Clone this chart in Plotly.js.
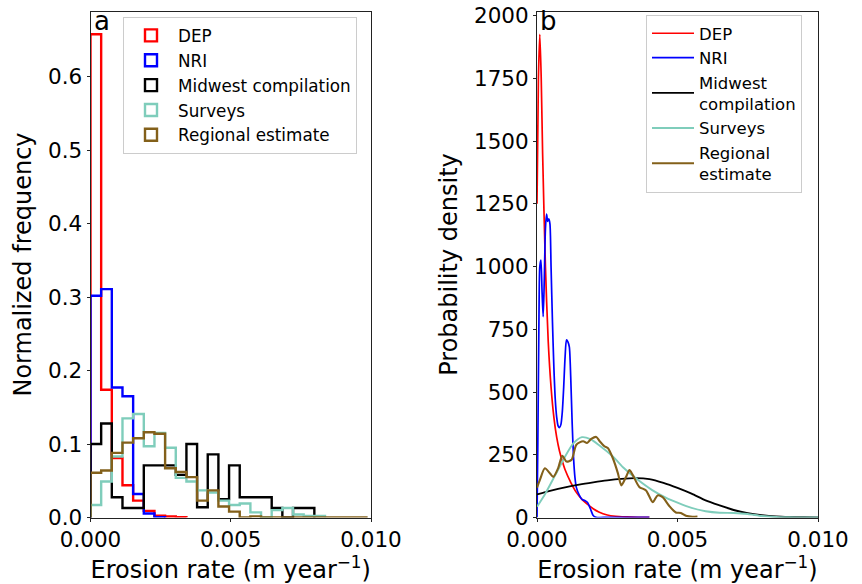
<!DOCTYPE html>
<html>
<head>
<meta charset="utf-8">
<script src="https://cdn.plot.ly/plotly-3.0.1.min.js"></script>
<style>
  html, body { margin: 0; padding: 0; background: #fff; }
  #chart { width: 862px; height: 584px; }
</style>
</head>
<body>
<div id="chart"></div>
<script>
// ---------- Panel a: normalized histogram frequencies (common bin width) ----------
const binWidth = 0.00038; // m/yr
const depFreq = [0.658, 0.174, 0.081, 0.044, 0.023, 0.009, 0.0023, 0.0014, 0.0005];
const nriFreq = [0.302, 0.311, 0.177, 0.165, 0.032, 0.0055, 0.0005];
const midwestFreq = [0.100, 0.128, 0.0275, 0.013, 0.013, 0.071, 0.071, 0.071, 0.058, 0.100,
                     0.014, 0.086, 0.025, 0.071, 0.0275, 0.0275, 0.0275, 0.013, 0.0, 0.013, 0.013];
const surveysFreq = [0.017, 0.049, 0.083, 0.135, 0.141, 0.097, 0.115, 0.095, 0.054, 0.049,
                     0.037, 0.034, 0.023, 0.017, 0.019, 0.007, 0.0, 0.010, 0.013, 0.004, 0.002, 0.002];
const regionalFreq = [0.061, 0.064, 0.088, 0.102, 0.108, 0.116, 0.114, 0.067, 0.062, 0.055,
                      0.023, 0.037, 0.015, 0.008, 0.0, 0.0015, 0, 0, 0, 0, 0, 0, 0, 0, 0, 0];

// ---------- Panel b: probability density curves ----------
const depX = [0, 0.00005, 0.0001, 0.00015, 0.0002, 0.0003, 0.0004, 0.0005, 0.0006, 0.0007, 0.0008,
              0.0009, 0.001, 0.0012, 0.0014, 0.0016, 0.0018, 0.002, 0.0022, 0.0025, 0.0028, 0.0032, 0.0036, 0.004];
const depY = [1250, 1750, 1925, 1750, 1450, 1000, 700, 520, 400, 320, 265,
              225, 190, 140, 100, 72, 52, 35, 22, 10, 5, 2.5, 1, 0.3];

const nriX = [0, 0.00003, 0.00007, 0.0001, 0.00014, 0.00018, 0.00022, 0.00026, 0.0003, 0.00034, 0.00038,
              0.00042, 0.00046, 0.0005, 0.00055, 0.0006, 0.00065, 0.0007, 0.00075, 0.0008, 0.00085, 0.0009,
              0.00095, 0.001, 0.00105, 0.0011, 0.00115, 0.0012, 0.00125, 0.0013, 0.00135, 0.0014, 0.0015,
              0.0016, 0.0017, 0.0018, 0.0019, 0.002, 0.0021, 0.0025, 0.003, 0.004];
const nriY = [0, 300, 800, 1000, 1026, 900, 800, 950, 1150, 1209, 1180,
              1190, 1170, 1000, 780, 600, 470, 400, 365, 358, 370, 420,
              520, 640, 708, 700, 680, 560, 380, 240, 160, 120, 90,
              72, 68, 60, 35, 8, 1, 0.5, 0.3, 0.2];

const midwestX = [0, 0.0005, 0.001, 0.0015, 0.002, 0.0025, 0.003, 0.0035, 0.004, 0.0045, 0.005,
                  0.0055, 0.006, 0.0065, 0.007, 0.0075, 0.008, 0.0085, 0.009, 0.0095, 0.01];
const midwestY = [92, 107, 120, 131, 140, 148, 154, 157, 153, 138, 118,
                  95, 68, 48, 30, 17, 9, 4, 1.8, 0.7, 0.2];

const surveysX = [0, 0.0003, 0.00065, 0.001, 0.0013, 0.0016, 0.0019, 0.0022, 0.0027, 0.0031, 0.0036,
                  0.0041, 0.0046, 0.005, 0.0055, 0.006, 0.0065, 0.007, 0.0075, 0.008, 0.0085, 0.009, 0.0095, 0.01];
const surveysY = [43, 96, 169, 243, 296, 320, 312, 289, 243, 196, 149,
                  109, 78, 59, 38, 25, 19, 18, 14, 6, 2, 0.8, 0.3, 0.1];

const regionalX = [0, 0.0001, 0.00028, 0.00046, 0.00058, 0.00075, 0.0009, 0.00105, 0.00123, 0.0014,
                   0.00164, 0.00178, 0.00193, 0.00211, 0.00223, 0.0024, 0.00252, 0.0027, 0.00288, 0.003,
                   0.00317, 0.00329, 0.00341, 0.00364, 0.00388, 0.00412, 0.00429, 0.00447, 0.0047, 0.00494,
                   0.00512, 0.0053, 0.00553, 0.00571];
const regionalY = [119, 149, 196, 176, 162, 196, 246, 223, 230, 290,
                   304, 297, 313, 321, 304, 284, 277, 236, 176, 128,
                   162, 189, 169, 122, 108, 61, 88, 81, 47, 20,
                   18, 7, 3, 4];

const seriesNames = ['DEP', 'NRI', 'Midwest compilation', 'Surveys', 'Regional estimate'];
const seriesNamesB = ['DEP', 'NRI', 'Midwest<br>compilation', 'Surveys', 'Regional<br>estimate'];
const colors = ['#ff0000', '#0000ff', '#000000', '#7fcdbb', '#83601a'];

const xTicks = [0, 0.005, 0.01];
const yTicksA = [0, 0.1, 0.2, 0.3, 0.4, 0.5, 0.6];
const yTicksB = [0, 250, 500, 750, 1000, 1250, 1500, 1750, 2000];

// ---------- build traces ----------
function stepXY(freq) {
  const xs = [0], ys = [0];
  freq.forEach((v, i) => { xs.push(i * binWidth); ys.push(v); });
  xs.push(freq.length * binWidth); ys.push(0);
  return { xs, ys };
}
const histData = [depFreq, nriFreq, midwestFreq, surveysFreq, regionalFreq];
const traces = [];
histData.forEach((f, i) => {
  const s = stepXY(f);
  traces.push({
    type: 'scatter', mode: 'lines', x: s.xs, y: s.ys, xaxis: 'x', yaxis: 'y',
    line: { color: colors[i], width: 2.4, shape: 'hv' },
    showlegend: false, hoverinfo: 'skip'
  });
});
// legend entries for panel a (outlined patches)
seriesNames.forEach((n, i) => {
  traces.push({
    type: 'bar', x: [null], y: [null], xaxis: 'x', yaxis: 'y', name: n,
    marker: { color: 'rgba(0,0,0,0)', line: { color: colors[i], width: 2.4 } },
    legend: 'legend', showlegend: true
  });
});
const kdeX = [depX, nriX, midwestX, surveysX, regionalX];
const kdeY = [depY, nriY, midwestY, surveysY, regionalY];
const kdeW = [1.7, 1.7, 1.9, 1.9, 2.1];
kdeX.forEach((xs, i) => {
  traces.push({
    type: 'scatter', mode: 'lines', x: xs, y: kdeY[i], xaxis: 'x2', yaxis: 'y2',
    name: seriesNamesB[i],
    line: { color: colors[i], width: kdeW[i], shape: 'spline', smoothing: 0.7 },
    legend: 'legend2', showlegend: true
  });
});

const FONT = 'DejaVu Sans, sans-serif';
const axisCommon = {
  showline: true, mirror: true, linecolor: '#222', linewidth: 1,
  ticks: 'outside', ticklen: 3, tickwidth: 1, tickcolor: '#222',
  showgrid: false, zeroline: false,
  tickfont: { family: FONT, size: 21.5, color: '#000' }
};
const yDomain = [1 - 517.5 / 584, 1 - 11.5 / 584];
const titleFont = { family: FONT, size: 24, color: '#000' };

const layout = {
  width: 862, height: 584,
  margin: { l: 0, r: 0, t: 0, b: 0 },
  paper_bgcolor: '#fff', plot_bgcolor: '#fff',
  showlegend: true,
  font: { family: FONT, color: '#000' },
  xaxis: Object.assign({}, axisCommon, {
    domain: [90.5 / 862, 371 / 862], range: [0, 0.01],
    tickvals: xTicks, tickformat: '.3f',
    title: { text: 'Erosion rate (m year<sup>−1</sup>)', font: titleFont, standoff: 9 }
  }),
  yaxis: Object.assign({}, axisCommon, {
    domain: yDomain, range: [0, 0.689],
    tickvals: yTicksA, tickformat: '.1f',
    title: { text: 'Normalized frequency', font: titleFont, standoff: 9 }
  }),
  xaxis2: Object.assign({}, axisCommon, {
    domain: [537 / 862, 818 / 862], range: [0, 0.01], anchor: 'y2',
    tickvals: xTicks, tickformat: '.3f',
    title: { text: 'Erosion rate (m year<sup>−1</sup>)', font: titleFont, standoff: 9 }
  }),
  yaxis2: Object.assign({}, axisCommon, {
    domain: yDomain, range: [0, 2016], anchor: 'x2',
    tickvals: yTicksB, tickformat: 'd',
    title: { text: 'Probability density', font: titleFont, standoff: 9 }
  }),
  legend: {
    x: 123 / 862, y: 1 - 17 / 584, xanchor: 'left', yanchor: 'top',
    bgcolor: 'rgba(255,255,255,0.8)', bordercolor: '#cccccc', borderwidth: 1,
    itemwidth: 44,
    font: { family: FONT, size: 16.8, color: '#000' }, tracegroupgap: 0
  },
  legend2: {
    x: 646 / 862, y: 1 - 15 / 584, xanchor: 'left', yanchor: 'top',
    bgcolor: 'rgba(255,255,255,0.8)', bordercolor: '#cccccc', borderwidth: 1,
    itemwidth: 42,
    font: { family: FONT, size: 16.5, color: '#000' }, tracegroupgap: 0
  },
  annotations: [
    { text: 'a', xref: 'x domain', yref: 'y domain', x: 0.005, y: 1.015, xanchor: 'left', yanchor: 'top',
      showarrow: false, font: { family: FONT, size: 26, color: '#000' } },
    { text: 'b', xref: 'x2 domain', yref: 'y2 domain', x: 0.005, y: 1.015, xanchor: 'left', yanchor: 'top',
      showarrow: false, font: { family: FONT, size: 26, color: '#000' } }
  ]
};

Plotly.newPlot('chart', traces, layout, { displayModeBar: false, staticPlot: true });
</script>
</body>
</html>
